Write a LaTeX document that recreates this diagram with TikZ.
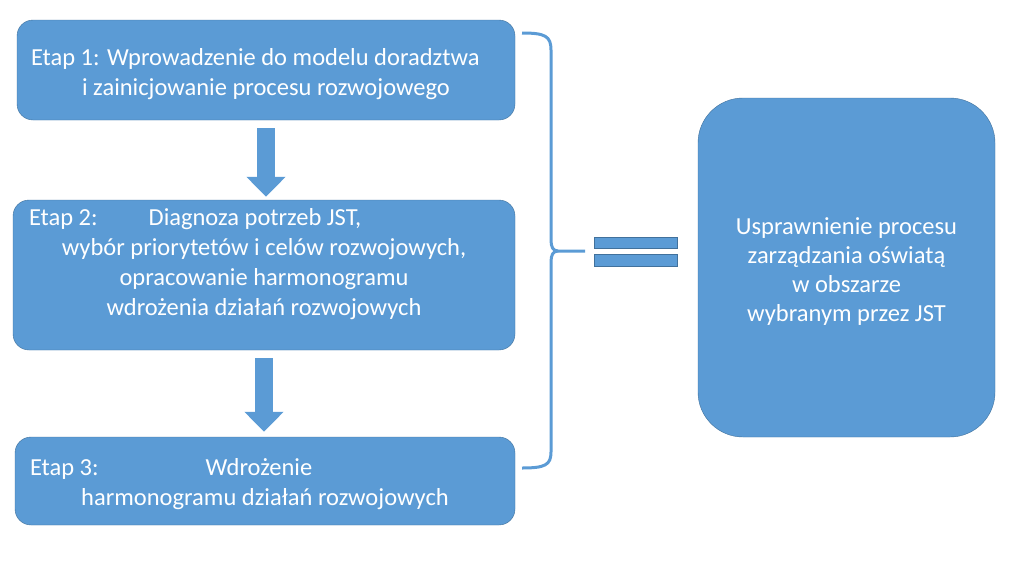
\documentclass[tikz,border=0pt]{standalone}
\usepackage{fontspec}
\setmainfont{Carlito}
\usetikzlibrary{arrows.meta}
\definecolor{boxblue}{HTML}{5B9BD5}
\definecolor{edgeblue}{HTML}{41719C}

\begin{document}
\begin{tikzpicture}[x = 1pt, y = -1pt,
        stage/.style={rectangle, rounded corners=16pt, draw=edgeblue, fill=boxblue, inner sep=0pt},
        result/.style={stage, rounded corners=45pt},
        stagetext/.style={text=white, align=center, inner sep=0pt, font=\fontsize{24.5}{30}\selectfont},
        flow/.style={boxblue, line width=18pt, -{Triangle[width=38pt, length=20pt]}},
        bar/.style={fill=boxblue, draw=edgeblue, line width=0.6pt}]

        \useasboundingbox (0, 0) rectangle (1024, 576);

        \node[stage, minimum width=498pt, minimum height=100pt] at (266, 70) (etap1) {};
        \node[stage, minimum width=502pt, minimum height=150pt] at (264, 275) (etap2) {};
        \node[stage, minimum width=500pt, minimum height=88pt] at (265, 481) (etap3) {};
        \node[result, minimum width=297pt, minimum height=339pt] at (846.5, 267.5) (cel) {};

        \node[stagetext] at (266, 74.5) (etap1text)
            {\makebox[470pt][l]{Etap 1: Wprowadzenie do modelu doradztwa}\\i zainicjowanie procesu rozwojowego};
        \node[stagetext] at (264, 264) (etap2text)
            {\makebox[470pt][l]{Etap 2:\hspace{51pt}Diagnoza potrzeb JST,}\\wybór priorytetów i celów rozwojowych,\\opracowanie harmonogramu\\wdrożenia działań rozwojowych};
        \node[stagetext] at (265, 484) (etap3text)
            {\makebox[470pt][l]{Etap 3:\hspace{107pt}Wdrożenie}\\harmonogramu działań rozwojowych};
        \node[stagetext, font=\fontsize{24.5}{29}\selectfont] at (846.5, 271.5) (celtext)
            {Usprawnienie procesu\\zarządzania oświatą\\w obszarze\\wybranym przez JST};

        \draw[flow, shorten <=8pt, shorten >=3pt] (etap1.south) -- (etap1.south |- etap2.north);
        \draw[flow, shorten <=8pt, shorten >=5pt] (etap2.south) -- (etap2.south |- etap3.north);

        \coordinate (bracetop) at (522, 33);
        \coordinate (bracetip) at (585, 251);
        \coordinate (bracebot) at (522, 468);
        \draw[boxblue, line width=3pt] (bracetop) .. controls (545, 33) and (551, 36) .. (551, 50)
            -- (551, 240) .. controls (551, 247) and (553, 251) .. (558, 251) -- (bracetip);
        \draw[boxblue, line width=3pt] (bracebot) .. controls (545, 468) and (551, 465) .. (551, 452)
            -- (551, 262) .. controls (551, 255) and (553, 251) .. (558, 251);

        \draw[bar] (594, 237) rectangle (677, 248);
        \draw[bar] (594, 254) rectangle (677, 266);
\end{tikzpicture}
\end{document}
